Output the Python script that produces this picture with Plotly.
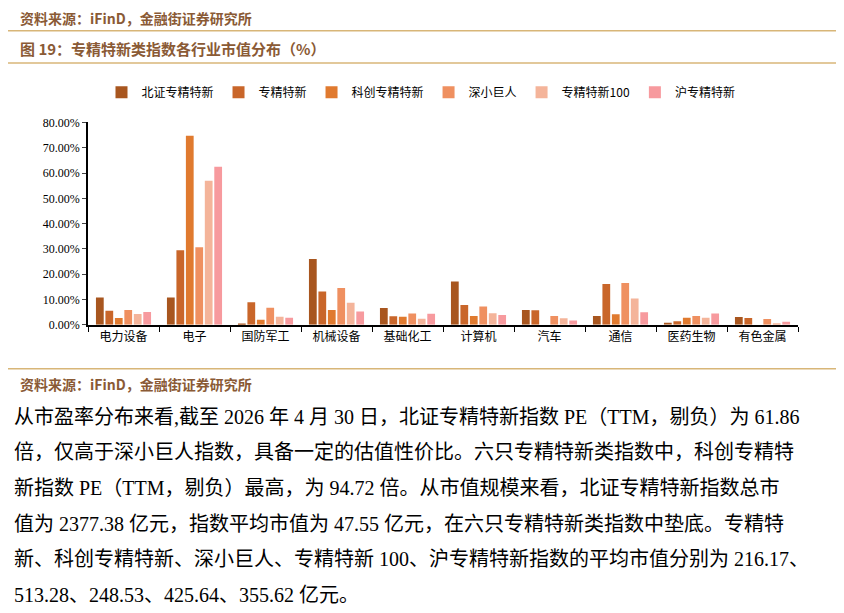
import plotly.graph_objects as go

W, H = 844, 613
categories = ["电力设备", "电子", "国防军工", "机械设备", "基础化工", "计算机", "汽车", "通信", "医药生物", "有色金属"]
series_names = ["北证专精特新", "专精特新", "科创专精特新", "深小巨人", "专精特新100", "沪专精特新"]
v_bz = [10.8, 10.8, 0.5, 26.0, 6.6, 17.1, 5.8, 3.5, 0.8, 3.1]
v_zj = [5.5, 29.5, 8.9, 13.2, 3.4, 7.8, 5.7, 16.1, 1.4, 2.7]
v_kc = [2.7, 74.8, 2.0, 5.8, 3.2, 3.5, 0.0, 4.2, 2.8, 0.0]
v_sx = [5.8, 30.7, 6.7, 14.5, 4.5, 7.2, 3.5, 16.5, 3.5, 2.3]
v_100 = [4.3, 57.0, 3.2, 8.7, 2.4, 4.6, 2.6, 10.4, 2.8, 0.6]
v_hu = [5.0, 62.5, 2.8, 5.2, 4.4, 3.9, 1.7, 4.9, 4.5, 1.2]
colors = ["#A8561F", "#C9662A", "#E07A2F", "#EF9060", "#F4B49A", "#F79A9E"]
y_ticks = [0, 10, 20, 30, 40, 50, 60, 70, 80]
y_tick_labels = ["0.00%", "10.00%", "20.00%", "30.00%", "40.00%", "50.00%", "60.00%", "70.00%", "80.00%"]

body_lines = [
    "从市盈率分布来看,截至 2026 年 4 月 30 日，北证专精特新指数 PE（TTM，剔负）为 61.86",
    "倍，仅高于深小巨人指数，具备一定的估值性价比。六只专精特新类指数中，科创专精特",
    "新指数 PE（TTM，剔负）最高，为 94.72 倍。从市值规模来看，北证专精特新指数总市",
    "值为 2377.38 亿元，指数平均市值为 47.55 亿元，在六只专精特新类指数中垫底。专精特",
    "新、科创专精特新、深小巨人、专精特新 100、沪专精特新指数的平均市值分别为 216.17、",
    "513.28、248.53、425.64、355.62 亿元。",
]

OFF = 8  # page margin offset of the browser

def px(x, y):
    return (x - OFF) / W, 1 - (y - OFF) / H

fig = go.Figure()
for name, vals, c in zip(series_names, [v_bz, v_zj, v_kc, v_sx, v_100, v_hu], colors):
    fig.add_bar(x=categories, y=vals, name=name, marker=dict(color=c, line=dict(width=0)))

x0, _ = px(88, 0); x1, _ = px(798, 0)
_, yb = px(0, 325); _, yt = px(0, 118)
CJK = "Noto Sans CJK SC"
brown = "#8A5A35"
gold = "#D8B678"

anns = []
def add_text(x, y, text, size, color="#000", weight="normal", family=CJK):
    ax, ay = px(x, y)
    anns.append(dict(x=ax, y=ay, xref="paper", yref="paper", text=text, showarrow=False,
                     xanchor="left", yanchor="middle",
                     font=dict(size=size, color=color, family=family, weight=weight)))

add_text(18, 11, "资料来源：iFinD，金融街证券研究所", 14, brown, "bold")
add_text(18, 42, "图 19：专精特新类指数各行业市值分布（%）", 15, brown, "bold")
add_text(18, 386, "资料来源：iFinD，金融街证券研究所", 14, brown, "bold")
for i, line in enumerate(body_lines):
    add_text(12, 419 + i * 36.5, line, 20, "#000", "normal", "Liberation Serif, " + CJK)

shapes = []
for yy in (24, 57, 370):
    _, p = px(0, yy)
    shapes.append(dict(type="line", xref="paper", yref="paper", x0=0, x1=1, y0=p, y1=p,
                       line=dict(color=gold, width=1.5)))

fig.update_layout(
    width=W, height=H, margin=dict(l=0, r=0, t=0, b=0),
    paper_bgcolor="white", plot_bgcolor="white",
    barmode="group", bargap=0.2, bargroupgap=0.18,
    font=dict(family="Liberation Serif, " + CJK, size=12, color="#000"),
    legend=dict(orientation="h", x=px(421, 0)[0], xanchor="center", y=px(0, 87)[1], yanchor="middle",
                font=dict(size=12, family=CJK), itemwidth=30, tracegroupgap=0,
                traceorder="normal"),
    xaxis=dict(domain=[x0, x1], showline=True, linecolor="#000", linewidth=1.5,
               ticks="outside", tickson="boundaries", ticklen=5, tickcolor="#000",
               tickfont=dict(family=CJK, size=12)),
    yaxis=dict(domain=[yb, yt], range=[0, 80], tickvals=y_ticks, ticktext=y_tick_labels,
               showline=True, linecolor="#000", linewidth=1.5, ticks="outside", ticklen=4,
               showgrid=False, zeroline=False, tickfont=dict(family="Liberation Serif", size=12)),
    annotations=anns, shapes=shapes,
)
fig.write_html("out.html")
